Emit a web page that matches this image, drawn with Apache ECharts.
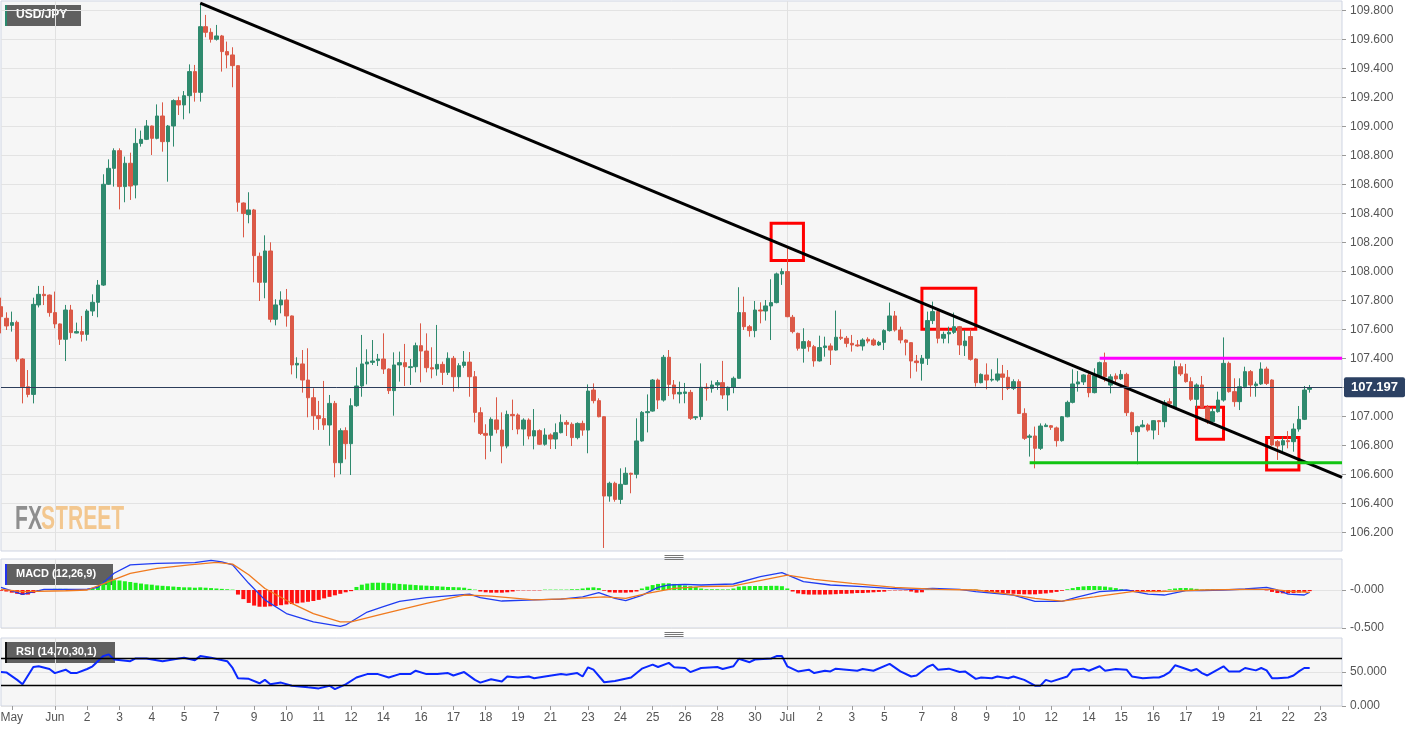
<!DOCTYPE html>
<html><head><meta charset="utf-8">
<script src="https://cdn.jsdelivr.net/npm/echarts@6/dist/echarts.min.js"></script>
<style>html,body{margin:0;padding:0;background:#fff;}#c{width:1413px;height:732px;}</style>
</head><body><div id="c"></div>
<script>
// ---- DATA ----
const N = 250; // category slots (4h candles), last few are empty
const categories = Array.from({length: N}, (_, i) => String(i));
// [open, close, low, high]
const candles = [
[107.756,107.687,107.572,107.818],[107.676,107.623,107.595,107.717],[107.627,107.646,107.584,107.722],[107.648,107.395,107.377,107.660],[107.395,107.204,107.089,107.400],
[107.204,107.151,107.131,107.319],[107.151,107.772,107.089,107.818],[107.768,107.841,107.751,107.899],[107.841,107.832,107.767,107.899],[107.836,107.715,107.687,107.840],
[107.715,107.637,107.607,107.860],[107.637,107.531,107.492,107.640],[107.531,107.733,107.381,107.768],[107.733,107.577,107.538,107.768],[107.574,107.584,107.572,107.646],
[107.584,107.565,107.515,107.692],[107.565,107.726,107.522,107.738],[107.726,107.786,107.692,107.841],[107.786,107.905,107.683,107.940],[107.905,108.600,107.899,108.669],
[108.600,108.710,108.595,108.772],[108.710,108.832,108.584,108.848],[108.832,108.584,108.427,108.848],[108.584,108.745,108.476,108.791],[108.745,108.588,108.492,108.818],
[108.595,108.882,108.503,108.986],[108.882,108.910,108.860,108.970],[108.910,109.002,108.905,109.043],[109.002,108.917,108.802,109.005],[108.917,109.071,108.910,109.151],
[109.071,108.894,108.825,109.165],[108.894,109.002,108.618,109.009],[109.002,109.177,108.860,109.186],[109.177,109.147,109.078,109.204],[109.147,109.211,109.048,109.243],
[109.211,109.377,109.089,109.427],[109.377,109.234,109.170,109.423],[109.234,109.687,109.170,109.848],[109.687,109.648,109.614,109.768],[109.648,109.600,109.577,109.676],
[109.600,109.623,109.591,109.699],[109.623,109.515,109.377,109.630],[109.515,109.492,109.400,109.584],[109.492,109.418,109.269,109.545],[109.418,108.476,108.411,109.420],
[108.471,108.398,108.234,108.475],[108.391,108.423,108.331,108.545],[108.423,108.108,107.924,108.430],[108.103,107.924,107.795,108.129],[107.924,108.140,107.814,108.248],
[108.140,107.669,107.648,108.200],[107.669,107.768,107.627,107.807],[107.768,107.802,107.710,107.862],[107.802,107.692,107.618,107.878],[107.692,107.354,107.289,107.695],
[107.354,107.365,107.262,107.407],[107.361,107.250,107.163,107.457],[107.250,107.128,106.993,107.469],[107.128,107.004,106.906,107.193],[107.004,106.984,106.906,107.106],
[106.984,106.940,106.906,107.244],[106.940,107.089,106.797,107.147],[107.089,106.680,106.579,107.106],[106.680,106.901,106.600,106.917],[106.901,106.811,106.703,106.924],
[106.811,107.073,106.595,107.124],[107.073,107.209,107.066,107.338],[107.209,107.361,107.135,107.561],[107.361,107.374,107.220,107.462],[107.372,107.381,107.354,107.526],
[107.384,107.395,107.347,107.430],[107.395,107.326,107.292,107.572],[107.326,107.177,107.154,107.330],[107.177,107.354,107.004,107.441],[107.354,107.370,107.239,107.446],
[107.370,107.342,107.209,107.499],[107.336,107.342,107.216,107.395],[107.342,107.487,107.303,107.508],[107.487,107.450,107.234,107.641],[107.450,107.335,107.303,107.572],
[107.335,107.326,107.262,107.476],[107.326,107.358,107.280,107.630],[107.358,107.303,107.216,107.377],[107.303,107.400,107.285,107.441],[107.400,107.273,107.170,107.416],
[107.273,107.349,107.193,107.366],[107.351,107.374,107.335,107.450],[107.374,107.273,107.135,107.443],[107.273,107.027,106.958,107.312],[107.025,106.882,106.871,107.062],
[106.882,106.869,106.703,106.945],[106.869,106.979,106.756,106.993],[106.975,106.910,106.882,107.131],[106.905,106.795,106.676,107.027],[106.795,107.013,106.779,107.039],
[107.013,107.004,106.905,107.115],[107.009,106.912,106.876,107.020],[106.912,106.974,106.797,106.986],[106.974,106.864,106.841,106.986],[106.864,106.901,106.772,107.050],
[106.901,106.807,106.802,106.910],[106.807,106.871,106.797,106.917],[106.871,106.843,106.774,106.882],[106.843,106.887,106.774,106.951],[106.887,106.958,106.882,107.013],
[106.958,106.945,106.864,106.974],[106.945,106.853,106.795,106.958],[106.853,106.951,106.841,106.958],[106.951,106.905,106.866,106.970],[106.905,107.174,106.745,107.220],
[107.181,107.108,107.089,107.227],[107.108,106.997,106.993,107.124],[106.997,106.450,106.092,107.000],[106.450,106.538,106.411,106.549],[106.538,106.427,106.411,106.549],
[106.427,106.531,106.395,106.641],[106.531,106.607,106.526,106.648],[106.607,106.600,106.469,106.611],[106.600,106.830,106.572,106.986],[106.830,107.027,106.825,107.036],
[107.025,107.032,106.889,107.151],[107.036,107.250,107.032,107.257],[107.250,107.112,107.050,107.260],[107.112,107.407,107.101,107.423],[107.407,107.220,107.140,107.457],
[107.216,107.154,107.117,107.250],[107.154,107.165,107.089,107.239],[107.158,107.168,107.090,107.230],[107.165,106.986,106.975,107.182],[106.990,106.997,106.975,107.000],
[106.998,107.200,106.975,107.365],[107.200,107.193,107.108,107.228],[107.193,107.216,107.163,107.246],[107.216,107.232,107.182,107.250],[107.232,107.147,107.119,107.382],
[107.147,107.200,107.039,107.205],[107.200,107.262,107.159,107.274],[107.262,107.715,107.260,107.890],[107.715,107.618,107.595,107.825],[107.618,107.591,107.549,107.630],
[107.591,107.733,107.545,107.795],[107.733,107.726,107.641,107.786],[107.726,107.761,107.660,107.802],[107.761,107.784,107.526,107.945],[107.784,107.982,107.779,107.991],
[107.982,107.998,107.906,108.020],[107.998,107.687,107.683,108.159],[107.683,107.584,107.572,107.699],[107.572,107.469,107.453,107.577],[107.469,107.515,107.370,107.607],
[107.515,107.480,107.446,107.526],[107.480,107.382,107.342,107.492],[107.382,107.474,107.377,107.556],[107.474,107.485,107.411,107.549],[107.485,107.457,107.354,107.503],
[107.457,107.545,107.453,107.729],[107.545,107.538,107.526,107.600],[107.538,107.503,107.476,107.554],[107.503,107.492,107.446,107.561],[107.492,107.485,107.480,107.526],
[107.485,107.526,107.453,107.538],[107.531,107.519,107.503,107.545],[107.526,107.492,107.485,107.538],[107.492,107.510,107.485,107.520],[107.510,107.591,107.457,107.600],
[107.591,107.692,107.584,107.784],[107.692,107.595,107.584,107.726],[107.595,107.526,107.503,107.618],[107.526,107.510,107.420,107.530],[107.508,107.381,107.262,107.510],
[107.381,107.370,107.308,107.423],[107.365,107.400,107.246,107.423],[107.400,107.660,107.354,107.722],[107.660,107.722,107.636,107.791],[107.722,107.538,107.503,107.738],
[107.538,107.565,107.503,107.584],[107.568,107.579,107.503,107.618],[107.579,107.618,107.568,107.715],[107.618,107.492,107.423,107.623],[107.487,107.519,107.416,107.595],
[107.550,107.393,107.384,107.600],[107.395,107.232,107.205,107.400],[107.232,107.289,107.227,107.296],[107.285,107.250,107.186,107.365],[107.250,107.255,107.239,107.324],
[107.250,107.292,107.239,107.400],[107.292,107.269,107.112,107.354],[107.269,107.193,107.181,107.319],[107.193,107.239,107.181,107.255],[107.239,107.020,107.016,107.255],
[107.020,106.848,106.837,107.055],[106.855,106.864,106.722,106.876],[106.864,106.779,106.641,106.929],[106.779,106.933,106.768,106.951],[106.929,106.938,106.929,106.951],
[106.935,106.924,106.906,106.940],[106.920,106.832,106.791,106.929],[106.832,106.997,106.825,107.002],[106.997,107.096,106.993,107.108],[107.096,107.223,107.089,107.324],
[107.223,107.237,107.170,107.312],[107.237,107.285,107.216,107.290],[107.285,107.163,107.131,107.315],[107.163,107.280,107.158,107.331],[107.280,107.370,107.270,107.377],
[107.370,107.273,107.239,107.439],[107.215,107.272,107.158,107.290],[107.278,107.258,107.227,107.296],[107.258,107.289,107.250,107.319],[107.289,107.025,107.002,107.300],
[107.025,106.894,106.871,107.032],[106.894,106.928,106.669,106.935],[106.928,106.940,106.924,106.974],[106.940,106.905,106.894,106.951],[106.905,106.970,106.841,106.974],
[106.970,106.963,106.871,106.974],[106.963,107.094,106.924,107.112],[107.101,107.089,107.066,107.124],[107.062,107.342,107.055,107.384],[107.342,107.292,107.278,107.365],
[107.292,107.239,107.232,107.361],[107.239,107.117,107.105,107.269],[107.117,107.216,107.055,107.227],[107.216,107.062,107.055,107.278],[107.062,106.963,106.947,107.078],
[106.963,107.032,106.951,107.062],[107.032,107.112,107.025,107.170],[107.112,107.365,107.101,107.544],[107.365,107.170,107.163,107.377],[107.170,107.101,107.066,107.262],
[107.101,107.204,107.043,107.262],[107.204,107.308,107.193,107.342],[107.308,107.216,107.135,107.319],[107.211,107.223,107.135,107.239],[107.223,107.326,107.216,107.372],
[107.326,107.227,107.216,107.342],[107.250,106.802,106.795,107.255],[106.825,106.795,106.699,106.836],[106.802,106.832,106.749,106.859],[106.832,106.825,106.779,106.898],
[106.825,106.912,106.756,106.951],[106.912,106.979,106.894,107.071],[106.979,107.181,106.974,107.209],[107.186,107.197,107.163,107.216]
];
const lastPrice = 107.197;
const priceTicks = [106.2,106.4,106.6,106.8,107.0,107.2,107.4,107.6,107.8,108.0,108.2,108.4,108.6,108.8,109.0,109.2,109.4,109.6,109.8];

// MACD histogram, one value per candle
const macdHist = [
-0.01,-0.02,-0.035,-0.05,-0.066,-0.06,-0.04,-0.015,0.005,0.01,
0.015,0.015,0.015,0.012,0.01,0.01,0.01,0.015,0.05,0.1,
0.125,0.13,0.125,0.115,0.105,0.095,0.085,0.075,0.07,0.06,
0.055,0.05,0.045,0.04,0.035,0.035,0.03,0.035,0.03,0.025,
0.02,0.015,0.01,0.005,-0.06,-0.12,-0.17,-0.205,-0.22,-0.22,
-0.215,-0.21,-0.2,-0.19,-0.185,-0.175,-0.165,-0.155,-0.145,-0.13,
-0.11,-0.09,-0.07,-0.05,-0.03,-0.015,0.04,0.07,0.085,0.095,
0.096,0.095,0.09,0.085,0.08,0.075,0.07,0.065,0.06,0.057,
0.053,0.05,0.045,0.04,0.038,0.035,0.03,0.015,0.005,-0.02,
-0.03,-0.035,-0.035,-0.035,-0.03,-0.02,-0.005,-0.005,-0.005,-0.005,
-0.005,0.005,0.005,0.005,0.005,0.005,0.01,0.01,0.02,0.03,
0.035,0.025,-0.01,-0.03,-0.035,-0.035,-0.035,-0.03,-0.02,0.02,
0.045,0.065,0.08,0.088,0.088,0.08,0.07,0.06,0.05,0.04,
0.02,0.01,0.01,0.01,0.008,0.008,0.02,0.045,0.05,0.052,
0.053,0.053,0.053,0.055,0.055,0.05,0.02,-0.02,-0.045,-0.055,
-0.06,-0.06,-0.06,-0.06,-0.058,-0.055,-0.05,-0.05,-0.045,-0.04,
-0.04,-0.035,-0.03,-0.025,-0.022,-0.005,-0.005,-0.005,-0.005,-0.02,
-0.035,-0.03,0.005,0.005,0.005,0.005,0.005,0.005,0.005,0.005,
0.005,0.005,-0.01,-0.02,-0.03,-0.035,-0.04,-0.045,-0.05,-0.055,
-0.057,-0.057,-0.057,-0.05,-0.045,-0.035,-0.025,-0.01,0.01,0.025,
0.04,0.048,0.053,0.053,0.05,0.045,0.035,0.025,0.01,-0.01,
-0.02,-0.022,-0.022,-0.022,-0.02,-0.015,-0.005,0.01,0.02,0.026,
0.026,0.022,0.015,0.005,0.01,0.01,0.01,0.01,0.01,0.01,
0.01,0.01,0.01,0.01,0.01,-0.005,-0.025,-0.04,-0.044,-0.044,
-0.04,-0.035,-0.025,-0.015
];
// [candle index, value]
const macdLine = [[0,0.035],[4,-0.057],[8,0.009],[16,0.01],[18,0.035],[21,0.22],[24,0.33],[29,0.35],[36,0.36],[39,0.39],[41,0.37],[43,0.33],[46,0.088],[49,-0.13],[53,-0.31],[58,-0.42],[63,-0.48],[64,-0.46],[68,-0.29],[71,-0.22],[74,-0.15],[79,-0.10],[87,-0.053],[89,-0.10],[93,-0.145],[99,-0.13],[104,-0.12],[108,-0.09],[111,-0.035],[114,-0.11],[116,-0.14],[119,-0.07],[122,0.035],[124,0.066],[127,0.075],[130,0.066],[136,0.079],[141,0.175],[145,0.228],[149,0.11],[154,0.066],[160,0.044],[165,0.022],[169,0.009],[173,0.02],[178,0.009],[181,-0.022],[188,-0.066],[192,-0.15],[197,-0.15],[200,-0.09],[204,-0.022],[209,0],[213,-0.053],[216,-0.066],[220,-0.009],[223,-0.009],[227,0],[231,0.013],[235,0.035],[237,0],[239,-0.053],[242,-0.066],[243,-0.03]];
const signalLine = [[0,0.009],[4,-0.022],[12,-0.01],[16,0],[20,0.11],[24,0.22],[29,0.285],[35,0.33],[40,0.364],[43,0.34],[46,0.2],[49,0.02],[54,-0.175],[58,-0.31],[63,-0.42],[65,-0.42],[70,-0.33],[74,-0.26],[79,-0.175],[86,-0.066],[91,-0.08],[99,-0.13],[107,-0.11],[112,-0.09],[116,-0.11],[120,-0.044],[125,0.022],[130,0.044],[136,0.053],[146,0.197],[151,0.14],[158,0.088],[166,0.035],[174,0.009],[181,0],[186,-0.044],[192,-0.11],[197,-0.145],[203,-0.09],[210,-0.022],[215,-0.022],[223,0],[231,0.009],[236,0.009],[240,-0.022],[243,-0.03]];
const rsiLine = [[0,49.9],[1,49.4],[3,38.4],[4,31.9],[6,57.4],[7,58.4],[9,54.4],[10,48.4],[12,53.4],[13,48.4],[14,48.4],[16,54.4],[17,58.4],[19,73.4],[20,75.9],[21,68.4],[24,65.9],[25,69.9],[27,69.9],[30,65.9],[33,69.9],[34,70.9],[36,67.4],[37,73.4],[39,70.9],[42,65.9],[43,55.9],[44,40.9],[46,39.9],[48,33.4],[49,38.4],[50,31.9],[52,34.4],[54,29.9],[57,27.4],[59,25.9],[61,29.9],[62,24.9],[64,31.9],[66,41.9],[68,46.9],[70,46.9],[72,41.9],[74,46.9],[76,46.9],[77,51.9],[79,46.9],[81,46.9],[83,48.4],[84,44.9],[86,49.9],[88,38.4],[89,34.4],[91,39.4],[93,35.9],[94,43.4],[96,41.9],[98,43.4],[99,40.9],[101,43.4],[104,46.9],[105,45.9],[107,48.4],[108,43.4],[109,56.9],[110,53.4],[112,34.9],[114,36.9],[117,41.9],[119,54.9],[121,60.9],[122,57.4],[124,63.4],[125,56.9],[127,55.9],[128,49.9],[130,55.9],[133,57.4],[134,54.4],[136,58.4],[137,69.4],[139,64.4],[140,68.4],[143,69.9],[144,73.4],[145,73.4],[146,58.4],[148,50.9],[150,53.4],[151,48.4],[153,51.9],[154,50.9],[155,54.9],[159,51.9],[160,54.4],[162,51.9],[165,61.9],[167,50.9],[169,43.4],[170,44.9],[172,57.4],[173,60.9],[174,53.4],[176,54.9],[178,49.9],[179,50.9],[181,39.9],[182,41.9],[184,40.9],[185,43.4],[187,40.9],[188,43.4],[190,38.4],[192,29.9],[193,29.9],[194,38.4],[195,35.9],[198,43.4],[199,53.4],[201,54.9],[202,51.9],[204,58.4],[205,51.9],[207,54.4],[209,53.4],[210,43.4],[212,40.9],[214,41.9],[215,41.9],[216,44.9],[217,49.9],[218,59.9],[219,57.4],[221,51.9],[222,54.4],[223,48.4],[224,44.9],[225,49.4],[227,58.4],[228,50.9],[230,50.9],[231,55.9],[233,52.4],[234,55.9],[235,52.4],[236,40.9],[237,40.9],[239,41.9],[240,44.9],[241,50.9],[242,55.9],[243,55.9]];

// bottom date labels: candle index -> text
const labelIdx = [2,10,16,22,28,34,40,47,53,59,65,71,78,84,90,96,102,109,115,121,127,133,140,146,152,158,164,171,177,183,189,195,202,208,214,220,226,233,239,245];
const labelText = ['May','Jun','2','3','4','5','7','9','10','11','12','14','16','17','18','19','21','23','24','25','26','28','30','Jul','2','3','5','7','8','9','10','12','14','15','16','17','19','21','22','23'];
const monthIdx = [10,146];

// drawn annotations
const trendLine = [[37,109.85],[249,106.578]];
const resistance = [[204,107.4],[249,107.4]];
const support = [[191,106.68],[249,106.68]];
const boxes = [[143,108.332,149,108.075],[171,107.883,181,107.600],[222,107.062,227,106.842],[235,106.853,241,106.630]];
const macdTicks = [-0.5, 0];
const rsiTicks = [0, 50];
const rsiLevels = [70, 30];

// ---- CHART ----
const FONT = '"Liberation Sans", Arial, sans-serif';
const UP = '#2f8a6e', DOWN = '#db5947';
const labelMap = {}; labelIdx.forEach((k, i) => labelMap[k] = labelText[i]);
const gridBase = {left: 1, width: 1341, show: true, backgroundColor: '#f6f6f6', borderColor: '#cfd5e3', borderWidth: 1, containLabel: false, outerBoundsMode: 'none'};
const chart = echarts.init(document.getElementById('c'));
const xAx = g => ({
  type: 'category', gridIndex: g, data: categories, boundaryGap: false,
  axisLine: {show: false},
  axisTick: {show: g === 2, alignWithLabel: true, interval: i => labelMap[i] !== undefined, length: 4, lineStyle: {color: '#999'}},
  axisLabel: {show: g === 2, interval: i => labelMap[i] !== undefined, formatter: (v, i) => labelMap[i] || '', color: '#555', fontSize: 12, fontFamily: FONT, margin: 6},
  splitLine: {show: true, interval: i => monthIdx.includes(i), lineStyle: {color: '#e1e1e1', width: 1}}
});
const yAx = (g, min, max, ticks, fmt) => ({
  type: 'value', gridIndex: g, position: 'right', min: min, max: max,
  axisLine: {show: false},
  axisTick: {show: true, customValues: ticks, length: 4, lineStyle: {color: '#999'}},
  axisLabel: {customValues: ticks, formatter: fmt, color: '#555', fontSize: 12, fontFamily: FONT, margin: 8},
  splitLine: {show: true, lineStyle: {color: '#e3e3e3'}}
});
const option = {
  animation: false,
  backgroundColor: '#ffffff',
  grid: [
    Object.assign({}, gridBase, {top: 1, height: 550}),
    Object.assign({}, gridBase, {top: 559, height: 69}),
    Object.assign({}, gridBase, {top: 638, height: 68})
  ],
  xAxis: [xAx(0), xAx(1), xAx(2)],
  yAxis: [
    yAx(0, 106.071, 109.864, priceTicks, v => v.toFixed(3)),
    yAx(1, -0.5, 0.408, macdTicks, v => (v === 0 ? '-0.000' : v.toFixed(3))),
    yAx(2, 0, 100, rsiTicks, v => v.toFixed(3))
  ],
  series: [
    {
      type: 'candlestick', xAxisIndex: 0, yAxisIndex: 0, data: candles, barWidth: 4,
      itemStyle: {color: UP, color0: DOWN, borderColor: UP, borderColor0: DOWN, borderWidth: 1},
      markLine: {
        silent: true, symbol: ['none', 'none'], animation: false,
        lineStyle: {color: '#2c3d5b', width: 1, type: 'solid'},
        label: {show: true, position: 'end', formatter: () => lastPrice.toFixed(3), backgroundColor: '#2c4163', color: '#fff',
          fontWeight: 'bold', fontSize: 13, fontFamily: FONT, padding: [4, 7, 3, 7], borderRadius: 2, distance: 2},
        data: [{yAxis: lastPrice}]
      },
      markArea: {
        silent: true,
        itemStyle: {color: 'rgba(0,0,0,0)', borderColor: '#ff0000', borderWidth: 3},
        data: boxes.map(b => [{xAxis: b[0], yAxis: b[1]}, {xAxis: b[2], yAxis: b[3]}])
      }
    },
    {type: 'line', xAxisIndex: 0, yAxisIndex: 0, data: trendLine, symbol: 'none', silent: true, z: 4, lineStyle: {color: '#000', width: 3}},
    {type: 'line', xAxisIndex: 0, yAxisIndex: 0, data: resistance, symbol: 'none', silent: true, z: 4, lineStyle: {color: '#ff00ff', width: 3}},
    {type: 'line', xAxisIndex: 0, yAxisIndex: 0, data: support, symbol: 'none', silent: true, z: 4, lineStyle: {color: '#11c411', width: 3}},
    {
      type: 'bar', xAxisIndex: 1, yAxisIndex: 1, barWidth: 4,
      data: macdHist.map(v => ({value: v, itemStyle: {color: v >= 0 ? '#1df01d' : '#ff1010'}}))
    },
    {type: 'line', xAxisIndex: 1, yAxisIndex: 1, data: macdLine, symbol: 'none', lineStyle: {color: '#1f3cf2', width: 1.3}},
    {type: 'line', xAxisIndex: 1, yAxisIndex: 1, data: signalLine, symbol: 'none', lineStyle: {color: '#f07a1e', width: 1.3}},
    {
      type: 'line', xAxisIndex: 2, yAxisIndex: 2, data: rsiLine, symbol: 'none', lineStyle: {color: '#0a28ff', width: 2},
      markLine: {silent: true, symbol: ['none', 'none'], label: {show: false}, lineStyle: {color: '#000', width: 1.3, type: 'solid'},
        data: rsiLevels.map(v => ({yAxis: v}))}
    }
  ],
  graphic: [
    {type: 'text', left: 15, top: 503, scaleX: 0.62, style: {text: 'FX', fill: '#8e8e8e', font: 'bold 34px "Liberation Sans", Arial'}},
    {type: 'text', left: 41, top: 503, scaleX: 0.62, style: {text: 'STREET', fill: '#f3c78f', font: 'bold 34px "Liberation Sans", Arial'}},
    {type: 'rect', left: 5, top: 5, shape: {width: 76, height: 21}, style: {fill: 'rgba(82,82,82,0.92)'}},
    {type: 'rect', left: 5, top: 5, shape: {width: 2, height: 21}, style: {fill: '#2a8a6e'}},
    {type: 'text', left: 16, top: 9, style: {text: 'USD/JPY', fill: '#fff', font: 'bold 12px "Liberation Sans", Arial'}},
    {type: 'rect', left: 5, top: 564, shape: {width: 108, height: 21}, style: {fill: 'rgba(82,82,82,0.92)'}},
    {type: 'rect', left: 5, top: 564, shape: {width: 2, height: 21}, style: {fill: '#2233ee'}},
    {type: 'text', left: 16, top: 568, style: {text: 'MACD (12,26,9)', fill: '#fff', font: 'bold 11px "Liberation Sans", Arial'}},
    {type: 'rect', left: 5, top: 642, shape: {width: 110, height: 21}, style: {fill: 'rgba(82,82,82,0.92)'}},
    {type: 'rect', left: 5, top: 642, shape: {width: 2, height: 21}, style: {fill: '#111'}},
    {type: 'text', left: 16, top: 646, style: {text: 'RSI (14,70,30,1)', fill: '#fff', font: 'bold 11px "Liberation Sans", Arial'}},
    {type: 'group', left: 662, top: 553, children: [0, 2, 4].map(d => ({type: 'line', shape: {x1: 0, y1: d, x2: 19, y2: d}, style: {stroke: '#777', lineWidth: 1}}))},
    {type: 'group', left: 662, top: 630, children: [0, 2, 4].map(d => ({type: 'line', shape: {x1: 0, y1: d, x2: 19, y2: d}, style: {stroke: '#777', lineWidth: 1}}))}
  ]
};
chart.setOption(option);
</script>
</body></html>
